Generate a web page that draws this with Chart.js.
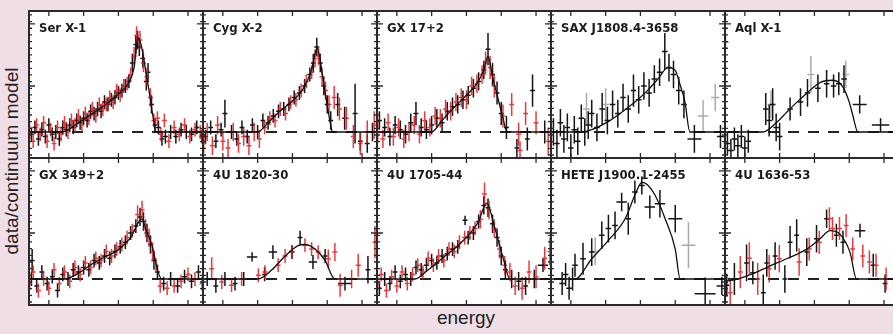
<!DOCTYPE html>
<html>
<head>
<meta charset="utf-8">
<script src="https://cdn.jsdelivr.net/npm/chart.js@4.4.0/dist/chart.umd.min.js"></script>
<style>
body{margin:0;background:#f0dee6;width:893px;height:334px;overflow:hidden;position:relative;font-family:"Liberation Sans",Arial,sans-serif}
canvas{position:absolute}
#ylab{position:absolute;left:12px;top:161px;transform:translate(-50%,-50%) rotate(-90deg);font-size:19px;color:#222;white-space:nowrap}
#xlab{position:absolute;left:466px;top:318px;transform:translate(-50%,-50%);font-size:19px;color:#222}
</style>
</head>
<body>
<div id="ylab">data/continuum model</div>
<div id="xlab">energy</div>
<script>
// panel names, top row then bottom row
var names = ["Ser X-1","Cyg X-2","GX 17+2","SAX J1808.4-3658","Aql X-1",
             "GX 349+2","4U 1820-30","4U 1705-44","HETE J1900.1-2455","4U 1636-53"];
var xTicks = [4,5,6,7,8];
var yMajor = [1.2,1.47];

// [energy, ratio, yerr, (xerr)]
var serModel = [[3.43,1],[4.4,1],[4.8,1.035],[5.2,1.075],[5.6,1.115],[6.0,1.165],[6.3,1.215],[6.45,1.28],[6.56,1.41],[6.65,1.38],[6.78,1.27],[6.9,1.16],[7.0,1.06],[7.08,1],[8.43,1]];
var serBlack = [[3.5,.99,.03],[3.6,1.02,.03],[3.7,.97,.03],[3.8,1.01,.03],[3.9,.98,.03],[4.0,1.03,.03],[4.1,.99,.03],[4.2,1.0,.03],[4.3,.97,.03],[4.4,1.02,.03],[4.5,1.01,.03],[4.6,1.03,.03],[4.7,1.02,.03],[4.8,1.05,.03],[4.9,1.04,.03],[5.0,1.06,.03],[5.1,1.05,.03],[5.2,1.09,.03],[5.3,1.08,.03],[5.4,1.1,.03],[5.5,1.09,.03],[5.6,1.13,.03],[5.7,1.12,.03],[5.8,1.14,.03],[5.9,1.15,.03],[6.0,1.17,.03],[6.1,1.18,.03],[6.2,1.2,.03],[6.3,1.22,.03],[6.4,1.3,.04],[6.5,1.38,.04],[6.55,1.4,.04],[6.6,1.37,.04],[6.7,1.32,.04],[6.8,1.22,.04],[6.85,1.26,.04],[6.95,1.12,.04],[7.05,1.03,.03],[7.15,1.02,.03],[7.25,.97,.03],[7.35,.98,.03],[7.5,1.0,.03],[7.65,.98,.03],[7.8,1.01,.03],[7.95,1.0,.03],[8.1,.99,.03],[8.25,1.02,.03],[8.4,.98,.03]];
var serRed = [[3.45,1.0,.03],[3.55,.96,.03],[3.65,1.03,.03],[3.75,.99,.03],[3.85,1.04,.03],[3.95,.96,.03],[4.05,1.01,.03],[4.15,.95,.03],[4.25,1.02,.03],[4.35,.99,.03],[4.45,1.04,.03],[4.55,1.0,.03],[4.65,1.05,.03],[4.75,1.03,.03],[4.85,1.07,.03],[4.95,1.03,.03],[5.05,1.08,.03],[5.15,1.06,.03],[5.25,1.1,.03],[5.35,1.07,.03],[5.45,1.12,.03],[5.55,1.1,.03],[5.65,1.12,.03],[5.75,1.15,.03],[5.85,1.13,.03],[5.95,1.18,.03],[6.05,1.16,.03],[6.15,1.2,.03],[6.25,1.21,.03],[6.35,1.25,.03],[6.45,1.33,.04],[6.52,1.42,.04],[6.62,1.4,.04],[6.72,1.3,.04],[6.82,1.24,.04],[6.92,1.15,.04],[7.02,1.05,.03],[7.12,1.06,.03],[7.22,.99,.03],[7.32,1.05,.03],[7.45,.96,.03],[7.6,1.02,.03],[7.75,.99,.03],[7.9,1.03,.03],[8.05,.98,.03],[8.2,1.01,.03],[8.35,1.0,.03]];

var cygModel = [[3.43,1],[5.0,1],[5.3,1.04],[5.6,1.085],[6.0,1.135],[6.3,1.185],[6.55,1.27],[6.71,1.365],[6.82,1.29],[6.95,1.16],[7.1,1.03],[7.15,1],[8.43,1]];
var cygBlack = [[3.5,.98,.03],[3.65,1.02,.03],[3.8,.96,.03],[3.95,1.01,.03],[4.06,1.08,.06],[4.25,1.0,.03],[4.4,.97,.03],[4.55,1.02,.03],[4.7,.98,.03],[4.85,1.03,.03],[5.0,1.0,.03],[5.15,1.05,.03],[5.3,1.04,.03],[5.45,1.07,.03],[5.6,1.09,.03],[5.75,1.1,.03],[5.9,1.12,.03],[6.05,1.15,.03],[6.2,1.17,.03],[6.35,1.2,.03],[6.5,1.25,.03],[6.6,1.3,.04],[6.7,1.37,.04],[6.8,1.3,.04],[6.9,1.2,.04],[7.0,1.12,.04],[7.1,1.05,.04],[7.3,1.12,.05],[7.5,1.06,.05],[7.8,1.08,.13],[7.95,.96,.04],[8.15,.95,.04],[8.3,1.0,.04]];
var cygRed = [[3.45,.95,.04],[3.55,1.0,.04],[3.7,.94,.04],[3.85,1.03,.04],[4.0,.96,.04],[4.15,.93,.04],[4.3,1.0,.04],[4.45,.95,.04],[4.6,.98,.04],[4.75,.94,.04],[4.9,1.0,.04],[5.05,.97,.04],[5.2,1.02,.03],[5.35,1.06,.03],[5.5,1.05,.03],[5.65,1.1,.03],[5.8,1.08,.03],[5.95,1.13,.03],[6.1,1.14,.03],[6.25,1.18,.03],[6.4,1.22,.03],[6.55,1.26,.03],[6.65,1.32,.04],[6.75,1.33,.04],[6.85,1.24,.04],[6.95,1.18,.04],[7.05,1.12,.04],[7.2,1.15,.05],[7.35,1.1,.05],[7.55,1.06,.05],[7.75,.98,.05],[7.95,.95,.05],[8.15,1.0,.05],[8.35,1.03,.06]];

var gx17Model = [[3.43,1],[5.0,1],[5.3,1.05],[5.6,1.1],[6.0,1.16],[6.3,1.21],[6.5,1.27],[6.62,1.33],[6.75,1.24],[6.9,1.15],[7.05,1.06],[7.17,1],[8.43,1]];
var gx17Black = [[3.5,1.05,.04],[3.65,1.02,.04],[3.8,.98,.04],[3.95,1.03,.04],[4.1,1.01,.04],[4.25,.99,.04],[4.4,1.04,.04],[4.55,1.08,.05],[4.7,1.02,.04],[4.85,1.01,.04],[5.0,1.03,.04],[5.15,1.06,.04],[5.3,1.04,.04],[5.45,1.09,.04],[5.6,1.11,.04],[5.75,1.12,.04],[5.9,1.14,.04],[6.05,1.16,.04],[6.2,1.19,.04],[6.35,1.22,.04],[6.5,1.27,.04],[6.62,1.36,.07],[6.75,1.25,.05],[6.88,1.17,.05],[7.0,1.08,.05],[7.15,1.02,.05],[7.45,.93,.04],[7.75,.97,.05],[7.9,1.18,.07],[8.25,1.0,.05]];
var gx17Red = [[3.45,1.0,.04],[3.6,.97,.04],[3.75,1.04,.04],[3.9,.98,.04],[4.05,1.02,.04],[4.2,.97,.04],[4.35,1.0,.04],[4.5,1.03,.04],[4.65,.99,.04],[4.8,1.05,.04],[4.95,1.02,.04],[5.1,1.07,.04],[5.25,1.06,.04],[5.4,1.1,.04],[5.55,1.09,.04],[5.7,1.13,.04],[5.85,1.15,.04],[6.0,1.14,.04],[6.15,1.2,.04],[6.3,1.21,.04],[6.45,1.25,.04],[6.55,1.3,.05],[6.68,1.28,.05],[6.8,1.2,.05],[7.05,1.07,.05],[7.3,1.12,.05],[7.54,.92,.04],[7.5,.99,.05],[7.7,1.08,.05],[8.0,1.04,.05],[8.35,.96,.06]];

var saxModel = [[3.43,1],[4.3,1],[4.6,1.01],[5.07,1.045],[5.5,1.09],[5.84,1.13],[6.2,1.18],[6.5,1.23],[6.79,1.28],[6.99,1.27],[7.15,1.2],[7.28,1.13],[7.42,1],[8.43,1]];
var saxBlack = [[3.5,1.0,.06],[3.6,.95,.06],[3.7,1.04,.06],[3.8,.97,.06],[3.9,1.02,.06],[4.0,.93,.06],[4.1,1.01,.06],[4.2,.96,.06],[4.3,1.06,.06],[4.4,1.0,.06],[4.5,1.03,.06],[4.6,1.08,.06],[4.75,1.02,.06],[4.9,1.1,.07],[5.05,1.05,.06],[5.2,1.12,.06],[5.35,1.08,.06],[5.5,1.15,.06],[5.65,1.1,.06],[5.8,1.18,.07],[5.95,1.14,.06],[6.1,1.2,.06],[6.25,1.17,.06],[6.4,1.23,.06],[6.55,1.26,.06],[6.7,1.35,.08],[6.82,1.28,.06],[6.95,1.25,.06],[7.1,1.18,.06],[7.25,1.12,.06],[7.55,.97,.06,.2],[8.3,.98,.05,.1]];
var saxGrey = [[4.45,1.1,.07],[5.0,1.12,.07],[7.8,1.07,.07,.15],[8.15,1.15,.06,.12]];

var aqlModel = [[3.43,1],[4.52,1],[4.9,1.04],[5.21,1.087],[5.5,1.13],[5.79,1.17],[6.16,1.215],[6.53,1.225],[6.82,1.195],[7.0,1.13],[7.1,1.074],[7.25,1],[8.43,1]];
var aqlBlack = [[3.5,.95,.05],[3.6,.92,.05],[3.7,.97,.05],[3.8,.94,.05],[3.9,.98,.05],[4.0,.93,.05],[4.1,.96,.05],[4.6,1.1,.07],[4.7,1.05,.07],[4.8,1.12,.07],[4.9,1.02,.06],[5.0,.98,.06],[5.3,1.1,.05],[5.6,1.13,.06],[5.8,1.17,.06],[6.1,1.19,.06],[6.35,1.21,.06],[6.55,1.2,.05],[6.7,1.21,.05],[6.85,1.23,.06],[7.3,1.12,.04,.2],[7.9,1.03,.03,.25]];
var aqlGrey = [[3.45,1.39,.03,.1],[4.75,1.12,.06],[5.9,1.25,.08],[6.9,1.25,.06]];

var gx349Model = [[3.43,1],[4.46,1],[4.9,1.03],[5.24,1.065],[5.6,1.095],[5.99,1.126],[6.39,1.19],[6.55,1.24],[6.68,1.26],[6.8,1.21],[6.96,1.148],[7.14,1.03],[7.25,1],[8.43,1]];
var gx349Black = [[3.5,1.0,.03],[3.52,1.08,.05],[3.65,.97,.03],[3.8,1.03,.03],[3.95,.98,.03],[4.1,1.01,.03],[4.25,.95,.03],[4.4,1.02,.03],[4.55,1.0,.03],[4.7,1.04,.03],[4.85,1.03,.03],[5.0,1.05,.03],[5.15,1.04,.03],[5.3,1.08,.03],[5.45,1.07,.03],[5.6,1.1,.03],[5.75,1.09,.03],[5.9,1.12,.03],[6.05,1.14,.03],[6.2,1.16,.03],[6.35,1.2,.03],[6.5,1.23,.03],[6.62,1.27,.04],[6.72,1.25,.04],[6.82,1.2,.04],[6.92,1.15,.04],[7.02,1.08,.04],[7.12,1.03,.03],[7.3,.98,.03],[7.5,1.0,.03],[7.7,.97,.03],[7.9,1.01,.03],[8.1,.99,.03],[8.3,1.03,.03]];
var gx349Red = [[3.45,.98,.03],[3.55,1.03,.03],[3.7,.95,.03],[3.85,1.0,.03],[4.0,.96,.03],[4.15,1.04,.03],[4.3,.98,.03],[4.45,1.03,.03],[4.6,.99,.03],[4.75,1.05,.03],[4.9,1.02,.03],[5.05,1.07,.03],[5.2,1.05,.03],[5.35,1.09,.03],[5.5,1.08,.03],[5.65,1.12,.03],[5.8,1.1,.03],[5.95,1.13,.03],[6.1,1.15,.03],[6.25,1.18,.03],[6.4,1.21,.03],[6.55,1.28,.04],[6.68,1.3,.04],[6.78,1.22,.04],[6.88,1.18,.04],[6.98,1.12,.04],[7.08,1.06,.03],[7.2,.97,.03],[7.4,.96,.03],[7.6,.97,.03],[7.8,.99,.03],[8.0,1.02,.03],[8.2,1.0,.03],[8.4,.98,.03]];

var u1820Model = [[3.43,1],[5.01,1],[5.41,1.04],[5.79,1.1],[6.16,1.145],[6.36,1.15],[6.65,1.13],[6.94,1.08],[7.22,1],[8.43,1]];
var u1820Black = [[3.55,1.0,.03],[3.8,.97,.03],[4.06,1.0,.03],[4.35,.98,.03],[4.6,1.0,.03],[4.84,1.096,.02,.15],[5.2,1.02,.03],[5.44,1.117,.03,.12],[5.99,1.117,.03],[6.22,1.18,.03],[6.59,1.074,.03,.12],[6.94,1.1,.03],[7.51,.98,.03,.2],[8.17,1.04,.06]];
var u1820Red = [[3.68,1.045,.05],[3.97,.987,.03],[4.25,.973,.03],[4.54,1.0,.03],[5.02,1.016,.03],[5.21,1.03,.03],[5.59,1.06,.03],[5.79,1.1,.03],[5.98,1.117,.03],[6.36,1.147,.03],[6.55,1.13,.03],[6.74,1.117,.03],[7.03,1.088,.04],[7.22,1.117,.04],[7.37,.973,.05],[7.7,1.0,.04],[7.89,1.06,.05],[8.37,1.16,.07]];

var u1705Model = [[3.43,1],[4.52,1],[4.9,1.04],[5.29,1.088],[5.86,1.16],[6.34,1.248],[6.58,1.33],[6.82,1.219],[7.06,1.088],[7.25,1],[8.43,1]];
var u1705Black = [[3.5,.96,.03],[3.65,1.0,.03],[3.8,.98,.03],[3.95,1.03,.03],[4.1,.99,.03],[4.25,1.02,.03],[4.4,1.0,.03],[4.55,1.05,.03],[4.7,1.04,.03],[4.85,1.06,.03],[5.0,1.08,.03],[5.15,1.07,.03],[5.3,1.1,.03],[5.45,1.11,.03],[5.6,1.13,.03],[5.75,1.14,.03],[5.96,1.255,.02],[6.05,1.18,.03],[6.2,1.2,.03],[6.35,1.25,.03],[6.5,1.32,.04],[6.62,1.31,.04],[6.75,1.24,.04],[6.88,1.18,.04],[7.0,1.1,.04],[7.12,1.04,.04],[7.3,1.0,.04],[7.5,.99,.04],[7.7,.97,.04],[7.95,1.0,.04],[8.2,1.06,.03,.15]];
var u1705Red = [[3.45,.98,.03],[3.55,1.02,.03],[3.7,.95,.03],[3.85,1.01,.03],[4.0,.97,.03],[4.15,1.03,.03],[4.3,.98,.03],[4.45,1.02,.03],[4.6,1.06,.03],[4.75,1.03,.03],[4.9,1.09,.03],[5.05,1.06,.03],[5.2,1.1,.03],[5.35,1.08,.03],[5.5,1.13,.03],[5.65,1.12,.03],[5.8,1.16,.03],[5.95,1.18,.03],[6.1,1.2,.03],[6.25,1.22,.03],[6.4,1.26,.04],[6.52,1.37,.05],[6.65,1.3,.04],[6.8,1.22,.04],[6.95,1.13,.04],[7.1,1.06,.04],[7.25,1.03,.04],[7.4,.97,.04],[7.6,.96,.05],[7.8,1.03,.05],[8.0,1.01,.05],[8.25,1.09,.05],[8.4,1.12,.06]];

var heteModel = [[3.43,1],[4.12,1],[4.6,1.088],[5.08,1.168],[5.56,1.262],[5.84,1.364],[6.04,1.42],[6.2,1.41],[6.42,1.364],[6.71,1.262],[7.0,1.13],[7.14,1],[8.43,1]];
var heteBlack = [[3.75,.98,.05],[3.85,1.02,.05],[3.95,.96,.05],[4.05,1.0,.05],[4.12,1.06,.05],[4.35,1.088,.07],[4.6,1.117,.06],[4.89,1.19,.06],[5.08,1.219,.06],[5.27,1.233,.06],[5.46,1.335,.04,.15],[5.65,1.262,.07],[5.84,1.378,.05],[6.04,1.407,.04],[6.27,1.313,.05,.15],[6.56,1.327,.06,.15],[7.0,1.262,.06,.2],[7.86,.936,.07,.3],[8.34,.97,.04,.15]];
var heteGrey = [[4.7,1.12,.06],[7.38,1.147,.1,.2]];

var u1636Model = [[3.43,.99],[3.8,1.0],[4.23,1.023],[4.7,1.055],[5.2,1.088],[5.78,1.13],[6.16,1.175],[6.45,1.21],[6.73,1.195],[7.02,1.117],[7.21,1],[8.43,1]];
var u1636Black = [[3.48,.973,.05],[3.7,1.0,.07],[4.05,1.07,.08],[4.23,1.027,.05],[4.53,.94,.08],[4.63,1.07,.06],[4.87,1.1,.06],[5.15,1.0,.06],[5.3,1.16,.07],[5.49,1.19,.07],[5.78,1.117,.06],[6.06,1.175,.06],[6.35,1.262,.04],[6.63,1.19,.05],[6.82,1.16,.05],[7.31,1.21,.03,.15],[7.69,1.06,.05],[8.03,.98,.04]];
var u1636Red = [[3.58,.94,.06],[3.87,1.03,.07],[4.13,1.09,.07],[4.37,1.0,.07],[4.7,1.045,.06],[4.99,1.088,.06],[5.56,1.074,.06],[5.85,1.13,.05],[6.14,1.16,.05],[6.43,1.262,.05],[6.52,1.22,.05],[6.72,1.22,.05],[6.91,1.233,.05],[7.1,1.13,.05],[7.39,1.1,.05],[7.58,1.074,.05],[7.77,1.06,.05],[8.06,1.0,.05]];
var u1636Grey = [[3.43,1.386,.03,.1]];

var panels = [
  [serModel, serBlack, serRed, null],
  [cygModel, cygBlack, cygRed, null],
  [gx17Model, gx17Black, gx17Red, null],
  [saxModel, saxBlack, null, saxGrey],
  [aqlModel, aqlBlack, null, aqlGrey],
  [gx349Model, gx349Black, gx349Red, null],
  [u1820Model, u1820Black, u1820Red, null],
  [u1705Model, u1705Black, u1705Red, null],
  [heteModel, heteBlack, null, heteGrey],
  [u1636Model, u1636Black, u1636Red, u1636Grey]
];

var errBars = {
  id: 'errBars',
  beforeDraw: function(chart) {
    var ctx = chart.ctx, a = chart.chartArea;
    ctx.save();
    ctx.fillStyle = '#fff';
    ctx.fillRect(a.left, a.top, a.right - a.left, a.bottom - a.top);
    ctx.restore();
  },
  beforeDatasetsDraw: function(chart) {
    var ctx = chart.ctx, a = chart.chartArea, xs = chart.scales.x, ys = chart.scales.y;
    ctx.save();
    ctx.beginPath(); ctx.rect(a.left, a.top, a.right - a.left, a.bottom - a.top); ctx.clip();
    var yb = ys.getPixelForValue(1);
    ctx.strokeStyle = '#222'; ctx.lineWidth = 1.8; ctx.setLineDash([11, 9]);
    ctx.beginPath(); ctx.moveTo(a.left + 3, yb); ctx.lineTo(a.right, yb); ctx.stroke();
    ctx.setLineDash([]);
    chart.data.datasets.forEach(function(ds, i) {
      if (!ds.bars) return;
      var meta = chart.getDatasetMeta(i);
      ctx.strokeStyle = ds.borderColor; ctx.lineWidth = 1.5;
      ds.bars.forEach(function(b, j) {
        var el = meta.data[j];
        var ex = b.length > 3 ? b[3] : ds.xe;
        ctx.beginPath();
        ctx.moveTo(xs.getPixelForValue(b[0] - ex), el.y);
        ctx.lineTo(xs.getPixelForValue(b[0] + ex), el.y);
        ctx.moveTo(el.x, ys.getPixelForValue(b[1] - b[2]));
        ctx.lineTo(el.x, ys.getPixelForValue(b[1] + b[2]));
        ctx.stroke();
      });
    });
    ctx.restore();
  },
  afterDraw: function(chart) {
    var ctx = chart.ctx, a = chart.chartArea, xs = chart.scales.x, ys = chart.scales.y;
    ctx.save();
    ctx.strokeStyle = '#2a2a2a';
    ctx.lineWidth = 1.3;
    ctx.beginPath();
    xTicks.forEach(function(t) {
      var px = xs.getPixelForValue(t);
      ctx.moveTo(px, a.top); ctx.lineTo(px, a.top + 5);
      ctx.moveTo(px, a.bottom); ctx.lineTo(px, a.bottom - 5);
    });
    for (var v = 0.9; v < 1.52; v += 0.029) {
      var py = ys.getPixelForValue(v);
      ctx.moveTo(a.left, py); ctx.lineTo(a.left + 3, py);
      ctx.moveTo(a.right, py); ctx.lineTo(a.right - 3, py);
    }
    yMajor.forEach(function(t) {
      var py = ys.getPixelForValue(t);
      ctx.moveTo(a.left, py); ctx.lineTo(a.left + 6, py);
      ctx.moveTo(a.right, py); ctx.lineTo(a.right - 6, py);
    });
    ctx.stroke();
    ctx.lineWidth = 2;
    ctx.strokeRect(a.left, a.top, a.right - a.left, a.bottom - a.top);
    ctx.fillStyle = '#1a1a1a';
    ctx.font = 'bold 13px "Liberation Sans Narrow", "DejaVu Sans Condensed", sans-serif';
    ctx.fillText(chart.options.plugins.title.text, a.left + 10, a.top + 21);
    ctx.restore();
  }
};

function pts(arr) { return arr.map(function(p) { return {x: p[0], y: p[1]}; }); }

panels.forEach(function(p, i) {
  var col = i % 5, row = Math.floor(i / 5);
  var cv = document.createElement('canvas');
  cv.width = 180; cv.height = 153;
  cv.style.left = (29 + col * 174 - 3) + 'px';
  cv.style.top = (11 + row * 147 - 3) + 'px';
  document.body.appendChild(cv);
  var ds = [];
  if (p[3]) ds.push({type: 'scatter', data: pts(p[3]), bars: p[3], xe: 0.1, borderColor: 'rgba(150,150,150,0.8)', pointRadius: 0});
  ds.push({type: 'scatter', data: pts(p[1]), bars: p[1], xe: (p[2] ? 0.07 : 0.08), borderColor: '#151515', pointRadius: 0});
  if (p[2]) ds.push({type: 'scatter', data: pts(p[2]), bars: p[2], xe: 0.07, borderColor: 'rgba(225,25,30,0.85)', pointRadius: 0});
  ds.push({type: 'line', data: pts(p[0]), borderColor: '#111', borderWidth: 1.3, pointRadius: 0, cubicInterpolationMode: 'monotone', fill: false});
  new Chart(cv.getContext('2d'), {
    type: 'scatter',
    data: {datasets: ds},
    options: {
      responsive: false, animation: false, devicePixelRatio: 1,
      layout: {padding: 3},
      plugins: {legend: {display: false}, tooltip: {enabled: false}, title: {display: false, text: names[i]}},
      scales: {
        x: {type: 'linear', min: 3.43, max: 8.43, display: false},
        y: {type: 'linear', min: 0.887, max: 1.526, display: false}
      }
    },
    plugins: [errBars]
  });
});
</script>
</body>
</html>
